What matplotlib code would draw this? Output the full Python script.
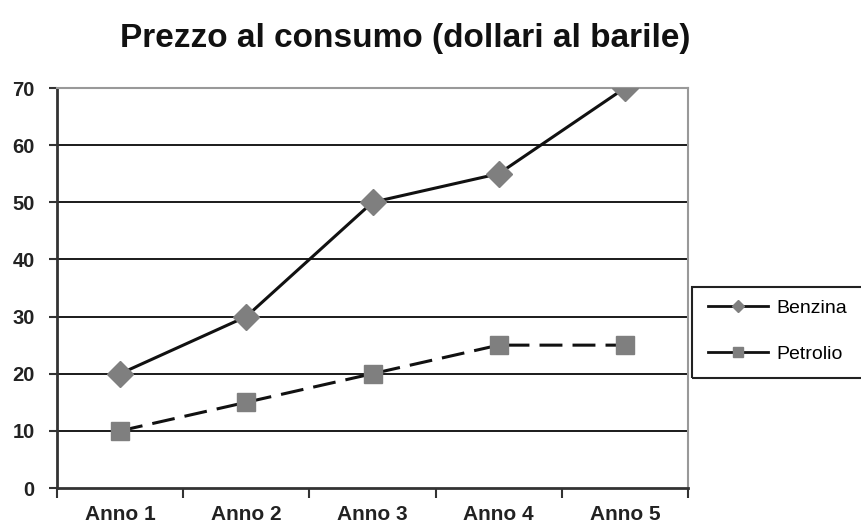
import numpy as np
import matplotlib.pyplot as plt
from matplotlib.lines import Line2D
from matplotlib.patches import Rectangle

## DATA ----------------
anni = ['Anno 1', 'Anno 2', 'Anno 3', 'Anno 4', 'Anno 5']
benzina = [20, 30, 50, 55, 70]
petrolio = [10, 15, 20, 25, 25]

plt.rcParams['font.family'] = ['Liberation Sans', 'DejaVu Sans']

W, H = 861, 524
fig = plt.figure(figsize=(W/100, H/100), dpi=100)
ax = fig.add_axes([57/W, 1-488/H, (688-57)/W, (488-88)/H])

xs = np.arange(1, len(anni) + 1)
ax.set_xlim(0.5, len(anni) + 0.5)
ax.set_ylim(0, 70)

# horizontal grid
for v in range(10, 70, 10):
    ax.axhline(v, color='#1a1a1a', lw=1.4, zorder=1)

# series
ax.plot(xs, benzina, color='#111111', lw=2.2, zorder=3)
ax.plot(xs, benzina, ls='none', marker='D', ms=13, color='#7f7f7f', mec='#7f7f7f', zorder=4)

ax.plot(xs, petrolio, color='#111111', lw=2.2, dashes=(7.5, 3.3), zorder=3)
ax.plot(xs, petrolio, ls='none', marker='s', ms=12.5, color='#7f7f7f', mec='#7f7f7f', zorder=4)

# axes look
for s in ['top', 'right']:
    ax.spines[s].set_color('#999999')
    ax.spines[s].set_linewidth(1.5)
for s in ['left', 'bottom']:
    ax.spines[s].set_color('#333333')
    ax.spines[s].set_linewidth(2)

ax.set_yticks(range(0, 71, 10))
ax.tick_params(axis='y', length=6, width=1.5, color='#333333', labelsize=14.5, pad=10)
for lab in ax.get_yticklabels():
    lab.set_fontweight('bold')
    lab.set_color('#222222')

ax.set_xticks(xs)
ax.set_xticklabels(anni, fontsize=15, fontweight='bold', color='#222222')
ax.tick_params(axis='x', length=0, pad=12)
ax.set_xticks(np.arange(0.5, len(anni) + 1, 1), minor=True)
ax.tick_params(axis='x', which='minor', length=7, width=1.5, color='#333333')

fig.text(405/W, 1-38/H, 'Prezzo al consumo (dollari al barile)', ha='center', va='center',
         fontsize=24, fontweight='bold', color='#111111')

# legend box (runs off the right edge like the original)
fig.patches.append(Rectangle((692/W, 1-378/H), 200/W, 91/H, transform=fig.transFigure,
                             fill=False, edgecolor='#222222', lw=1.5))
handles = [
    Line2D([], [], color='#111111', lw=2, marker='D', ms=6, mfc='#7f7f7f', mec='#7f7f7f'),
    Line2D([], [], color='#111111', lw=2, marker='s', ms=7, mfc='#7f7f7f', mec='#7f7f7f'),
]
fig.legend(handles, ['Benzina', 'Petrolio'], loc='center left',
           bbox_to_anchor=(708/W, 1-331/H), frameon=False, fontsize=14,
           handlelength=3.1, labelspacing=1.45, borderpad=0, borderaxespad=0,
           handletextpad=0.4)

fig.savefig('out.png', dpi=100)
